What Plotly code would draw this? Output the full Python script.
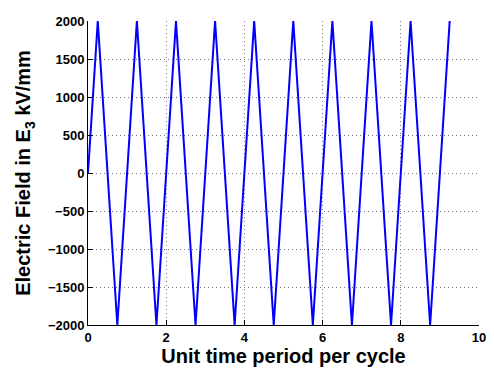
import plotly.graph_objects as go

# Time samples (unit time period per cycle) and electric field values (kV/mm)
time_vals = [0, 0.25, 0.75, 1.25, 1.75, 2.25, 2.75, 3.25, 3.75, 4.25,
             4.75, 5.25, 5.75, 6.25, 6.75, 7.25, 7.75, 8.25, 8.75, 9.25]
field_vals = [0, 2000, -2000, 2000, -2000, 2000, -2000, 2000, -2000, 2000,
              -2000, 2000, -2000, 2000, -2000, 2000, -2000, 2000, -2000, 2000]

x_ticks = [0, 2, 4, 6, 8, 10]
y_ticks = [-2000, -1500, -1000, -500, 0, 500, 1000, 1500, 2000]

fig = go.Figure()
fig.add_trace(go.Scatter(
    x=time_vals, y=field_vals, mode="lines",
    line=dict(color="#0000ff", width=2), showlegend=False,
))

font_family = "Liberation Sans, Arial, sans-serif"
grid_style = dict(showgrid=True, gridcolor="#777777", griddash="1px,3px", gridwidth=1)

fig.update_layout(
    width=494, height=368,
    margin=dict(l=88, r=8, t=21, b=40),
    paper_bgcolor="white", plot_bgcolor="white",
    font=dict(family=font_family, color="black"),
    xaxis=dict(
        range=[0, 10], tickvals=x_ticks, ticktext=[str(v) for v in x_ticks],
        zeroline=False, showline=True, linecolor="black", linewidth=1,
        ticks="inside", ticklen=5, tickcolor="black",
        tickfont=dict(size=13, weight="bold", family=font_family),
        title=dict(text="Unit time period per cycle", standoff=1,
                   font=dict(size=20, weight="bold", family=font_family)),
        **grid_style,
    ),
    yaxis=dict(
        range=[-2000, 2000], tickvals=y_ticks,
        ticktext=[str(v).replace("-", "\u2212") for v in y_ticks],
        zeroline=False, showline=True, linecolor="black", linewidth=1,
        ticks="inside", ticklen=5, tickcolor="black",
        tickfont=dict(size=13, weight="bold", family=font_family),
        title=dict(text="Electric Field in E<sub>3</sub> kV/mm", standoff=11,
                   font=dict(size=20, weight="bold", family=font_family)),
        **grid_style,
    ),
)

fig.write_html("out.html")
